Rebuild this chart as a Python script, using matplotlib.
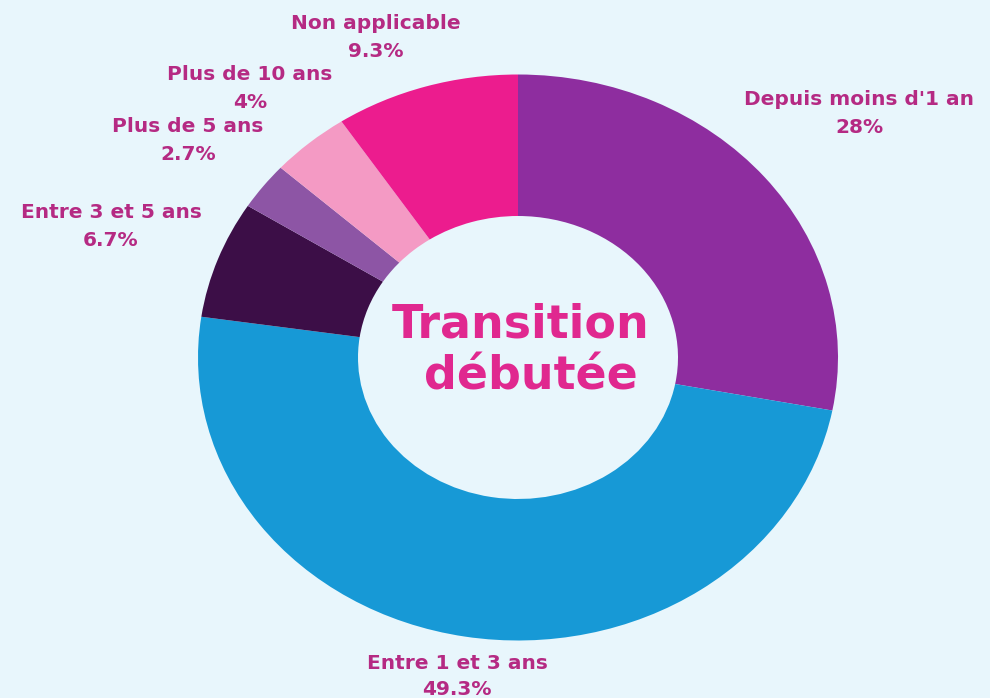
import matplotlib
matplotlib.use("Agg")
import matplotlib.pyplot as plt

categories = ["Depuis moins d'1 an", "Entre 1 et 3 ans", "Entre 3 et 5 ans",
              "Plus de 5 ans", "Plus de 10 ans", "Non applicable"]
values = [28, 49.3, 6.7, 2.7, 4, 9.3]
value_labels = ["28%", "49.3%", "6.7%", "2.7%", "4%", "9.3%"]
colors = ["#8E2D9F", "#1799D6", "#3C0E47", "#8D55A5", "#F49AC4", "#EC1C8E"]

W, H = 990, 698
bg = "#E8F6FC"
fig = plt.figure(figsize=(W / 100, H / 100), dpi=100, facecolor=bg)
ax = fig.add_axes([0, 0, 1, 1])
ax.set_facecolor(bg)

ax.pie(values, colors=colors, startangle=90, counterclock=False,
       radius=1.0, wedgeprops=dict(width=0.5, linewidth=0))
ax.set_aspect("auto")

cx, cy = 518, 357.5   # centre in pixels (from top)
rx, ry = 320, 283     # outer radii in pixels
ax.set_xlim(-cx / rx, (W - cx) / rx)
ax.set_ylim(-(H - cy) / ry, cy / ry)
ax.axis("off")

# (centre x, baseline of first line, line gap) in pixels from top-left
label_pos = {
    "Depuis moins d'1 an": (859, 105, 28),
    "Entre 1 et 3 ans": (457, 669, 26),
    "Entre 3 et 5 ans": (111, 218, 28),
    "Plus de 5 ans": (188, 132, 28),
    "Plus de 10 ans": (250, 80, 28),
    "Non applicable": (376, 29, 28),
}
lab_col = "#B52A83"
for cat, vl in zip(categories, value_labels):
    px, py, gap = label_pos[cat]
    fig.text(px / W, 1 - py / H, cat, ha="center", va="baseline",
             fontsize=14.5, color=lab_col, fontfamily="DejaVu Sans", fontweight="bold")
    fig.text(px / W, 1 - (py + gap) / H, vl, ha="center", va="baseline",
             fontsize=14.5, color=lab_col, fontfamily="DejaVu Sans", fontweight="bold")

fig.text(521 / W, 1 - 337 / H, "Transition", ha="center", va="baseline",
         fontsize=33, color="#E0288F", fontfamily="DejaVu Sans", fontweight="bold")
fig.text(531 / W, 1 - 390 / H, "débutée", ha="center", va="baseline",
         fontsize=33, color="#E0288F", fontfamily="DejaVu Sans", fontweight="bold")

fig.savefig("out.png", dpi=100, facecolor=bg)
